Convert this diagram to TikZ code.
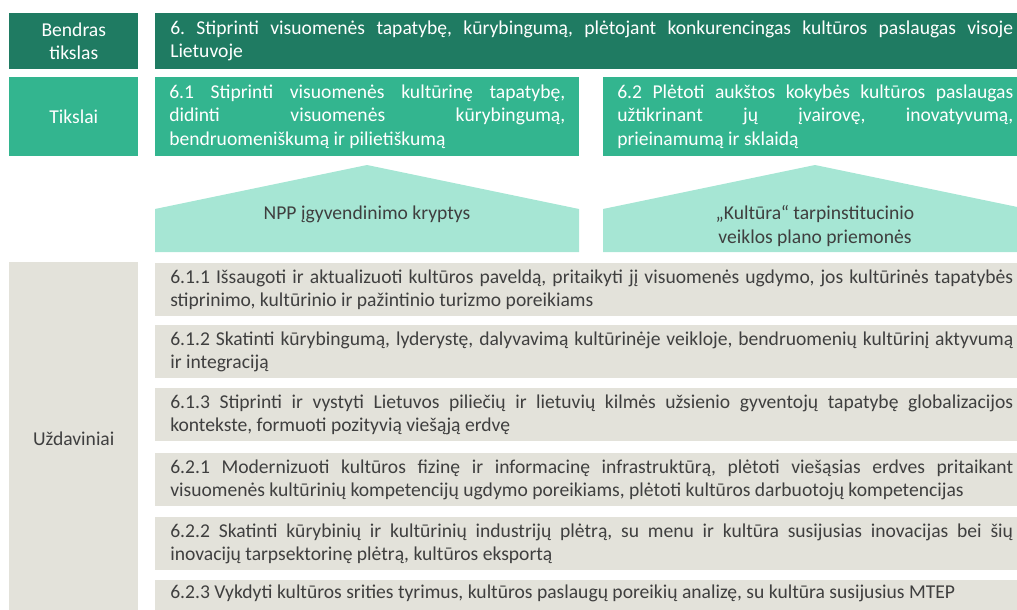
\documentclass[tikz,border=0pt]{standalone}
\usepackage{fontspec}
\setmainfont{Carlito}
\definecolor{bendrasgreen}{HTML}{1F7B62}
\definecolor{tikslaigreen}{HTML}{33B58F}
\definecolor{kryptismint}{HTML}{A6E6D4}
\definecolor{uzdavgrey}{HTML}{E3E2DA}
\definecolor{textgrey}{HTML}{3F3F3F}
\frenchspacing
\hyphenpenalty=10000
\exhyphenpenalty=10000
\tolerance=10000
\tikzset{
  every node/.style={font=\fontsize{14.7}{17.3}\selectfont},
  sidebox/.style={anchor=north west, minimum width=96.75pt, inner sep=0pt, align=center},
  goalbox/.style={anchor=north west, inner xsep=11.25pt, inner ysep=0pt, align=justify},
  taskbox/.style={anchor=north west, fill=uzdavgrey, text=textgrey, text width=632.25pt,
    inner xsep=11.25pt, inner ysep=0pt, minimum height=39.75pt, align=justify}
}
\begin{document}
\begin{tikzpicture}[x=0.75pt,y=-0.75pt]
\useasboundingbox (0,0) rectangle (1017,610);
\clip (0,0) rectangle (1017,610);
% bendras tikslas
\node[sidebox, fill=bendrasgreen, text=white, minimum height=42pt] (bendras) at (9,13) {Bendras\\tikslas};
\node[goalbox, fill=bendrasgreen, text=white, text width=632.25pt, minimum height=42pt] (goal6) at (155,13)
  {6. Stiprinti visuomenės tapatybę, kūrybingumą, plėtojant konkurencingas kultūros paslaugas visoje\linebreak Lietuvoje};
% tikslai
\node[sidebox, fill=tikslaigreen, text=white, minimum height=59.25pt] (tikslai) at (9,77) {Tikslai};
\node[goalbox, fill=tikslaigreen, text=white, text width=297pt, inner xsep=10.5pt, minimum height=59.25pt] (goal61) at (155,77)
  {6.1 Stiprinti visuomenės kultūrinę tapatybę,\linebreak didinti visuomenės kūrybingumą,\linebreak bendruomeniškumą ir pilietiškumą};
\node[goalbox, fill=tikslaigreen, text=white, text width=297pt, inner xsep=10.5pt, minimum height=59.25pt] (goal62) at (603,77)
  {6.2 Plėtoti aukštos kokybės kultūros paslaugas\linebreak užtikrinant jų įvairovę, inovatyvumą,\linebreak prieinamumą ir sklaidą};
% kryptys
\fill[kryptismint] (155,252) -- (155,209) -- (367,165) -- (579,209) -- (579,252) -- cycle;
\node[text=textgrey] (npp) at (367,214) {NPP įgyvendinimo kryptys};
\fill[kryptismint] (603,252) -- (603,209) -- (815,165) -- (1027,209) -- (1027,252) -- cycle;
\node[text=textgrey, align=center] (kultura) at (815,226) {„Kultūra“ tarpinstitucinio\\veiklos plano priemonės};
% uzdaviniai
\node[sidebox, fill=uzdavgrey, text=textgrey, minimum height=264.75pt] (uzdaviniai) at (9,262) {Uždaviniai};
\node[taskbox] (task611) at (155,263)
  {6.1.1 Išsaugoti ir aktualizuoti kultūros paveldą, pritaikyti jį visuomenės ugdymo, jos kultūrinės tapatybės\linebreak stiprinimo, kultūrinio ir pažintinio turizmo poreikiams};
\node[taskbox] (task612) at (155,325)
  {6.1.2 Skatinti kūrybingumą, lyderystę, dalyvavimą kultūrinėje veikloje, bendruomenių kultūrinį aktyvumą\linebreak ir integraciją};
\node[taskbox] (task613) at (155,388)
  {6.1.3 Stiprinti ir vystyti Lietuvos piliečių ir lietuvių kilmės užsienio gyventojų tapatybę globalizacijos\linebreak kontekste, formuoti pozityvią viešąją erdvę};
\node[taskbox] (task621) at (155,453)
  {6.2.1 Modernizuoti kultūros fizinę ir informacinę infrastruktūrą, plėtoti viešąsias erdves pritaikant\linebreak visuomenės kultūrinių kompetencijų ugdymo poreikiams, plėtoti kultūros darbuotojų kompetencijas};
\node[taskbox] (task622) at (155,517)
  {6.2.2 Skatinti kūrybinių ir kultūrinių industrijų plėtrą, su menu ir kultūra susijusias inovacijas bei šių\linebreak inovacijų tarpsektorinę plėtrą, kultūros eksportą};
\node[taskbox] (task623) at (155,580)
  {6.2.3 Vykdyti kultūros srities tyrimus, kultūros paslaugų poreikių analizę, su kultūra susijusius MTEP\\\strut};
\end{tikzpicture}
\end{document}
